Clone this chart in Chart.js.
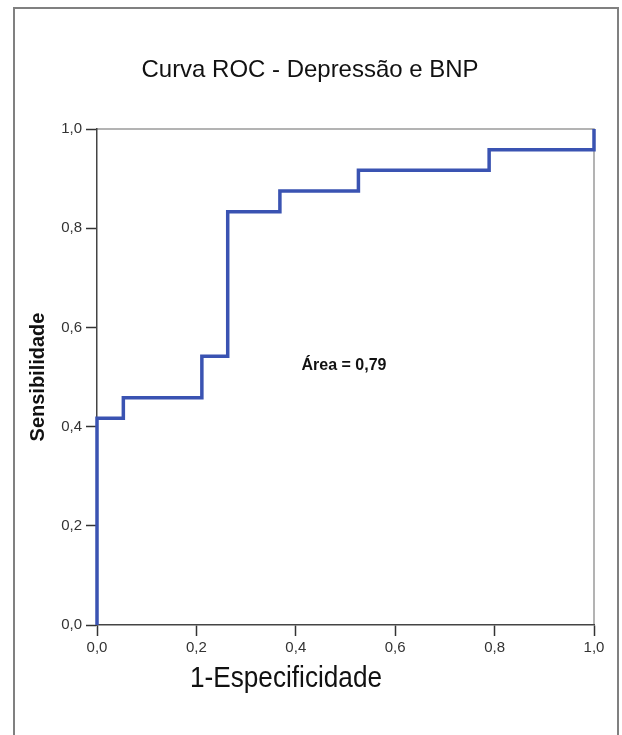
<!DOCTYPE html>
<html>
<head>
<meta charset="utf-8">
<script src="https://cdn.jsdelivr.net/npm/chart.js@4.4.1/dist/chart.umd.min.js"></script>
<style>
  body { margin: 0; background: #fff; }
  canvas { display: block; }
</style>
</head>
<body>
<canvas id="rocChart" width="622" height="735"></canvas>
<script>
// ROC curve corners (1-Especificidade, Sensibilidade)
var fpr = [0, 0, 0.053, 0.053, 0.211, 0.211, 0.263, 0.263, 0.368, 0.368, 0.526, 0.526, 0.789, 0.789, 1, 1];
var tpr = [0, 0.417, 0.417, 0.458, 0.458, 0.542, 0.542, 0.833, 0.833, 0.875, 0.875, 0.917, 0.917, 0.958, 0.958, 1];
var axisTicks = [0, 0.2, 0.4, 0.6, 0.8, 1.0];
var titleText = 'Curva ROC - Depressão e BNP';
var areaText = 'Área = 0,79';

function fmt(v) {
    return Number(v).toFixed(1).replace('.', ',');
}

// draw text squeezed to a given width (the original uses narrow fonts)
function fitText(ctx, text, x, y, maxW) {
    var w = ctx.measureText(text).width;
    ctx.save();
    ctx.translate(x, y);
    ctx.scale(Math.min(1, maxW / w), 1);
    ctx.fillText(text, 0, 0);
    ctx.restore();
}

// outer frame, plot frame, title, x label and the area note
var extras = {
    id: 'extras',
    beforeDraw: function (chart) {
        var ctx = chart.ctx;
        ctx.save();
        ctx.strokeStyle = '#808080';
        ctx.lineWidth = 2;
        ctx.beginPath();
        ctx.moveTo(14, 740);
        ctx.lineTo(14, 8);
        ctx.lineTo(618, 8);
        ctx.lineTo(618, 740);
        ctx.stroke();

        var a = chart.chartArea;
        ctx.strokeStyle = '#9a9a9a';
        ctx.lineWidth = 1.5;
        ctx.beginPath();
        ctx.moveTo(a.left, a.top);
        ctx.lineTo(a.right, a.top);
        ctx.lineTo(a.right, a.bottom);
        ctx.stroke();
        ctx.restore();
    },
    afterDraw: function (chart) {
        var ctx = chart.ctx;
        ctx.save();
        ctx.fillStyle = '#111';
        ctx.textAlign = 'center';
        ctx.textBaseline = 'middle';

        ctx.font = '24px "Liberation Sans", Arial, sans-serif';
        fitText(ctx, titleText, 310, 70, 337);

        ctx.font = '29px "Liberation Sans", Arial, sans-serif';
        fitText(ctx, '1-Especificidade', 286, 679, 192);

        ctx.font = 'bold 16px "Liberation Sans", Arial, sans-serif';
        fitText(ctx, areaText, 344, 366, 91);
        ctx.restore();
    }
};

var points = fpr.map(function (x, i) { return { x: x, y: tpr[i] }; });

var ctxRoc = document.getElementById('rocChart').getContext('2d');
var rocChart = new Chart(ctxRoc, {
    type: 'scatter',
    data: {
        datasets: [{
            data: points,
            showLine: true,
            borderColor: '#3a53b2',
            borderWidth: 3.5,
            pointRadius: 0,
            tension: 0,
            clip: false
        }]
    },
    plugins: [extras],
    options: {
        responsive: false,
        animation: false,
        layout: { padding: { top: 129, right: 28, bottom: 0, left: 0 } },
        plugins: {
            legend: { display: false },
            tooltip: { enabled: false }
        },
        scales: {
            x: {
                type: 'linear',
                min: 0,
                max: 1,
                afterFit: function (scale) { scale.height = 110; },
                afterBuildTicks: function (scale) {
                    scale.ticks = axisTicks.map(function (v) { return { value: v }; });
                },
                grid: { drawOnChartArea: false, drawTicks: true, tickLength: 11, tickColor: '#333', tickWidth: 1.5 },
                border: { display: true, color: '#444', width: 1.5 },
                ticks: {
                    color: '#333',
                    padding: 3,
                    maxRotation: 0,
                    font: { family: '"Liberation Sans", Arial, sans-serif', size: 15 },
                    callback: function (v) { return fmt(v); }
                }
            },
            y: {
                type: 'linear',
                min: 0,
                max: 1,
                afterFit: function (scale) { scale.width = 97; },
                afterBuildTicks: function (scale) {
                    scale.ticks = axisTicks.map(function (v) { return { value: v }; });
                },
                grid: { drawOnChartArea: false, drawTicks: true, tickLength: 11, tickColor: '#333', tickWidth: 1.5 },
                border: { display: true, color: '#444', width: 1.5 },
                title: {
                    display: true,
                    text: 'Sensibilidade',
                    color: '#111',
                    font: { family: '"Liberation Sans", Arial, sans-serif', size: 20, weight: 'bold' },
                    padding: { top: 26, bottom: 0 }
                },
                ticks: {
                    color: '#333',
                    padding: 4,
                    font: { family: '"Liberation Sans", Arial, sans-serif', size: 15 },
                    callback: function (v) { return fmt(v); }
                }
            }
        }
    }
});
</script>
</body>
</html>
